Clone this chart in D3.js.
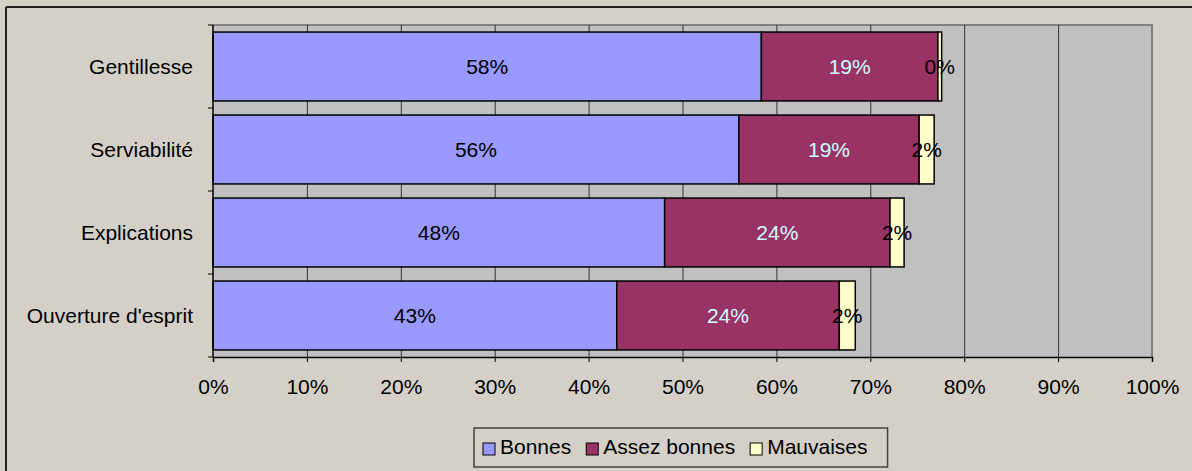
<!DOCTYPE html>
<html>
<head>
<meta charset="utf-8">
<script src="https://cdn.jsdelivr.net/npm/d3@7"></script>
<style>
  body { margin: 0; background: #d4d0c8; }
  text { font-family: "Liberation Sans", Arial, sans-serif; }
</style>
</head>
<body>
<svg id="chart"></svg>
<script>
// data (percent)
var categories = ['Gentillesse', 'Serviabilité', 'Explications', "Ouverture d'esprit"]
var seriesNames = ['Bonnes', 'Assez bonnes', 'Mauvaises']
var bonnes = [58.4, 56.0, 48.1, 43.0]
var assezBonnes = [18.8, 19.2, 24.0, 23.7]
var mauvaises = [0.4, 1.6, 1.5, 1.7]
var xTicks = [0, 10, 20, 30, 40, 50, 60, 70, 80, 90, 100]

var colours = ['#9999ff', '#993366', '#ffffcc']
var labelColours = ['#000000', '#ccffff', '#000000']

var width = 1192, height = 471
var margin = { left: 213, right: 40, top: 25, bottom: 114 }

var svg = d3.select('#chart')
    .attr('width', width)
    .attr('height', height)

svg.append('rect')
    .attr('width', width)
    .attr('height', height)
    .attr('fill', '#d4d0c8')

// outer frame (top and left edges visible)
svg.append('line').attr('x1', 6).attr('x2', width).attr('y1', 7).attr('y2', 7)
    .attr('stroke', '#222').attr('stroke-width', 2)
svg.append('line').attr('x1', 6).attr('x2', 6).attr('y1', 7).attr('y2', height)
    .attr('stroke', '#222').attr('stroke-width', 2)

var x = d3.scaleLinear()
    .domain([0, 100])
    .range([margin.left, width - margin.right])

var y = d3.scaleBand()
    .domain(categories)
    .range([margin.top, height - margin.bottom])
    .paddingInner(0.17)
    .paddingOuter(0.085)

var plotTop = margin.top, plotBottom = height - margin.bottom

// plot area
svg.append('rect')
    .attr('x', x(0))
    .attr('y', plotTop)
    .attr('width', x(100) - x(0))
    .attr('height', plotBottom - plotTop)
    .attr('fill', '#c0c0c0')

svg.append('path')
    .attr('d', `M${x(0)},${plotTop}H${x(100)}V${plotBottom}`)
    .attr('fill', 'none')
    .attr('stroke', '#808080')
    .attr('stroke-width', 2)

// vertical gridlines
svg.append('g')
    .selectAll('line')
    .data(xTicks.filter(d => d > 0 && d < 100))
    .enter().append('line')
    .attr('x1', d => x(d) + 0.5)
    .attr('x2', d => x(d) + 0.5)
    .attr('y1', plotTop)
    .attr('y2', plotBottom)
    .attr('stroke', '#333')
    .attr('stroke-width', 1)

// stacked bars
var rows = categories.map((c, i) => ({ cat: c, Bonnes: bonnes[i], 'Assez bonnes': assezBonnes[i], Mauvaises: mauvaises[i] }))
var stack = d3.stack().keys(seriesNames)(rows)

var layers = svg.append('g')
    .selectAll('g')
    .data(stack)
    .enter().append('g')
    .attr('fill', (d, i) => colours[i])

layers.selectAll('rect')
    .data(d => d)
    .enter().append('rect')
    .attr('x', d => x(d[0]))
    .attr('y', d => y(d.data.cat))
    .attr('width', d => x(d[1]) - x(d[0]))
    .attr('height', y.bandwidth())
    .attr('stroke', '#000')
    .attr('stroke-width', 1.5)

// value labels
stack.forEach(function (layer, si) {
    svg.append('g')
        .selectAll('text')
        .data(layer)
        .enter().append('text')
        .attr('x', d => (x(d[0]) + x(d[1])) / 2)
        .attr('y', d => y(d.data.cat) + y.bandwidth() / 2)
        .attr('dy', '0.35em')
        .attr('text-anchor', 'middle')
        .attr('font-size', '21px')
        .attr('fill', labelColours[si])
        .text(d => Math.round(d[1] - d[0]) + '%')
})

// axes
var xAxis = d3.axisBottom(x)
    .tickValues(xTicks)
    .tickFormat(d => d + '%')
    .tickSize(5)
    .tickPadding(17)

var gx = svg.append('g')
    .attr('transform', `translate(0,${plotBottom})`)
    .call(xAxis)
gx.select('.domain').attr('stroke', '#000').attr('stroke-width', 1.5)
gx.selectAll('.tick line').attr('stroke', '#000')
gx.selectAll('.tick text')
    .attr('font-size', '21px')
    .attr('font-family', '"Liberation Sans", Arial, sans-serif')
    .attr('fill', '#000')

// y axis: ticks sit on the band boundaries
var step = y.step()
var boundaries = d3.range(categories.length + 1).map(i => plotTop + i * step)

svg.append('line')
    .attr('x1', x(0)).attr('x2', x(0))
    .attr('y1', plotTop).attr('y2', plotBottom)
    .attr('stroke', '#000').attr('stroke-width', 1.5)

svg.append('g')
    .selectAll('line')
    .data(boundaries)
    .enter().append('line')
    .attr('x1', x(0) - 5)
    .attr('x2', x(0))
    .attr('y1', d => d)
    .attr('y2', d => d)
    .attr('stroke', '#000')

svg.append('g')
    .selectAll('text')
    .data(categories)
    .enter().append('text')
    .attr('x', x(0) - 20)
    .attr('y', d => y(d) + y.bandwidth() / 2)
    .attr('dy', '0.35em')
    .attr('text-anchor', 'end')
    .attr('font-size', '21px')
    .attr('fill', '#000')
    .text(d => d)

// legend
var legend = svg.append('g')
var legendBox = legend.append('rect')
    .attr('fill', 'none')
    .attr('stroke', '#404040')
    .attr('stroke-width', 1.5)

var lx = 483, ly = 443
seriesNames.forEach(function (name, i) {
    legend.append('rect')
        .attr('x', lx)
        .attr('y', ly)
        .attr('width', 12)
        .attr('height', 12)
        .attr('fill', colours[i])
        .attr('stroke', '#000')
        .attr('stroke-width', 1)
    var t = legend.append('text')
        .attr('x', lx + 17)
        .attr('y', ly + 11)
        .attr('font-size', '21px')
        .attr('fill', '#000')
        .text(name)
    lx = lx + 17 + t.node().getComputedTextLength() + 15
})

legendBox
    .attr('x', 474)
    .attr('y', 428)
    .attr('width', lx - 15 + 20 - 474)
    .attr('height', 39)
</script>
</body>
</html>
